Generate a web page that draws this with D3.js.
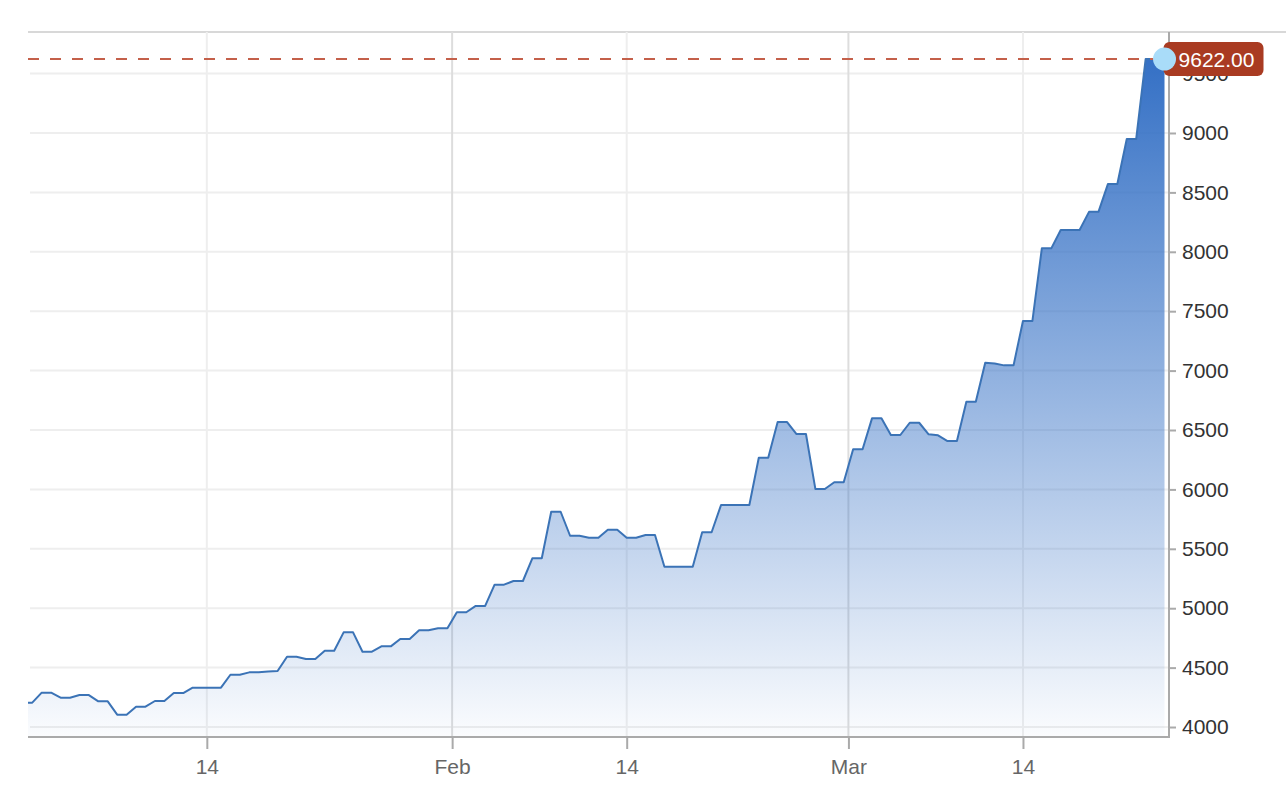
<!DOCTYPE html>
<html>
<head>
<meta charset="utf-8">
<script src="https://cdn.jsdelivr.net/npm/d3@7"></script>
<style>
	body { margin: 0; background: #ffffff; }
	text { font-family: "Liberation Sans", Arial, sans-serif; }
</style>
</head>
<body>
<script>
// price points, evenly spaced along the x axis
	var prices = [
		4205, 4205, 4289, 4289, 4247, 4247, 4269, 4269, 4216, 4216,
		4104, 4104, 4171, 4171, 4219, 4219, 4286, 4286, 4331, 4331,
		4331, 4331, 4440, 4440, 4460, 4462, 4468, 4471, 4592, 4592,
		4572, 4572, 4642, 4642, 4797, 4797, 4634, 4634, 4679, 4679,
		4741, 4741, 4814, 4814, 4831, 4831, 4966, 4966, 5019, 5019,
		5198, 5198, 5229, 5229, 5420, 5420, 5812, 5812, 5610, 5610,
		5593, 5593, 5661, 5661, 5593, 5593, 5616, 5616, 5349, 5349,
		5349, 5349, 5639, 5639, 5869, 5869, 5869, 5869, 6267, 6267,
		6567, 6567, 6466, 6466, 6003, 6003, 6060, 6060, 6338, 6338,
		6598, 6598, 6458, 6458, 6561, 6561, 6464, 6455, 6407, 6407,
		6738, 6738, 7066, 7060, 7044, 7044, 7418, 7418, 8029, 8029,
		8184, 8184, 8184, 8336, 8336, 8570, 8570, 8950, 8950, 9622,
		9622, 9622
	];
	var lastPrice = 9622;

// axis ticks
	var yTicks = [4000, 4500, 5000, 5500, 6000, 6500, 7000, 7500, 8000, 8500, 9000, 9500];
	var xTickAt = [19.5, 45.5, 64, 87.5, 106];	// in point index units
	var xTickLabels = ['14', 'Feb', '14', 'Mar', '14'];
	var xTickMonth = [false, true, false, true, false];

// parameters for layout
	var width = 1286,
		height = 794,
		plotLeft = 28,
		plotRight = 1168,
		plotTop = 32,
		plotBottom = 737,
		fontSize = 21;

	var x = d3.scaleLinear()
		.domain([0.548, 121.37])
		.range([plotLeft, plotRight]);

	var y = d3.scaleLinear()
		.domain([3916, 9850])
		.range([plotBottom, plotTop]);

	var svg = d3.select('body').append('svg')
		.attr('width', width)
		.attr('height', height);

	var defs = svg.append('defs');

	defs.append('clipPath')
		.attr('id', 'plot-clip')
	  .append('rect')
		.attr('x', plotLeft)
		.attr('y', plotTop)
		.attr('width', plotRight - plotLeft)
		.attr('height', plotBottom - plotTop);

	var grad = defs.append('linearGradient')
		.attr('id', 'fill-grad')
		.attr('gradientUnits', 'userSpaceOnUse')
		.attr('x1', 0).attr('x2', 0)
		.attr('y1', y(lastPrice))
		.attr('y2', plotBottom);
	grad.append('stop').attr('offset', 0).attr('stop-color', '#3470c5').attr('stop-opacity', 1);
	grad.append('stop').attr('offset', 1).attr('stop-color', '#3470c5').attr('stop-opacity', 0.02);

// top border
	svg.append('line')
		.attr('x1', plotLeft).attr('x2', width)
		.attr('y1', plotTop).attr('y2', plotTop)
		.style('stroke', '#d8d8d8')
		.style('stroke-width', 2);

// horizontal grid
	svg.append('g').selectAll('line')
		.data(yTicks)
		.join('line')
		.attr('x1', plotLeft + 2).attr('x2', plotRight)
		.attr('y1', d => y(d)).attr('y2', d => y(d))
		.style('stroke', '#eeeeee')
		.style('stroke-width', 2);

// vertical grid
	svg.append('g').selectAll('line')
		.data(xTickAt)
		.join('line')
		.attr('x1', d => x(d)).attr('x2', d => x(d))
		.attr('y1', plotTop).attr('y2', plotBottom)
		.style('stroke', (d, i) => xTickMonth[i] ? '#dddddd' : '#eeeeee')
		.style('stroke-width', 2);

// area and line
	var plot = svg.append('g')
		.attr('clip-path', 'url(#plot-clip)');

	plot.append('path')
		.datum(prices)
		.attr('d', d3.area()
			.x((d, i) => x(i))
			.y0(plotBottom)
			.y1(d => y(d)))
		.style('fill', 'url(#fill-grad)');

	plot.append('path')
		.datum(prices)
		.attr('d', d3.line()
			.x((d, i) => x(i))
			.y(d => y(d)))
		.style('fill', 'none')
		.style('stroke', '#3b73b6')
		.style('stroke-width', 2)
		.style('stroke-linejoin', 'round');

// x axis
	var xAxis = svg.append('g')
		.attr('transform', 'translate(0,' + plotBottom + ')')
		.call(d3.axisBottom(x)
			.tickValues(xTickAt)
			.tickFormat((d, i) => xTickLabels[i])
			.tickSize(12)
			.tickPadding(10));
	xAxis.select('.domain').remove();
	xAxis.selectAll('.tick line').style('stroke', '#aaaaaa').style('stroke-width', 2);
	xAxis.selectAll('.tick text')
		.style('font-size', fontSize + 'px')
		.style('font-family', '"Liberation Sans", Arial, sans-serif')
		.style('fill', '#666666');

	svg.append('line')
		.attr('x1', plotLeft).attr('x2', plotRight + 1)
		.attr('y1', plotBottom).attr('y2', plotBottom)
		.style('stroke', '#aaaaaa')
		.style('stroke-width', 2);

// y axis on the right
	var yAxis = svg.append('g')
		.attr('transform', 'translate(' + (plotRight + 1) + ',0)')
		.call(d3.axisRight(y)
			.tickValues(yTicks)
			.tickFormat(d3.format('d'))
			.tickSize(7)
			.tickPadding(6));
	yAxis.select('.domain').remove();
	yAxis.selectAll('.tick line').style('stroke', '#aaaaaa').style('stroke-width', 2);
	yAxis.selectAll('.tick text')
		.style('font-size', fontSize + 'px')
		.style('font-family', '"Liberation Sans", Arial, sans-serif')
		.style('fill', '#333333');

	svg.append('line')
		.attr('x1', plotRight + 1).attr('x2', plotRight + 1)
		.attr('y1', plotTop).attr('y2', plotBottom + 1)
		.style('stroke', '#aaaaaa')
		.style('stroke-width', 2);

// last price marker: dashed line, label, dot
	var lastX = x(prices.length - 1),
		lastY = y(lastPrice);

	svg.append('line')
		.attr('x1', plotLeft).attr('x2', lastX)
		.attr('y1', lastY).attr('y2', lastY)
		.style('stroke', '#c4604a')
		.style('stroke-width', 2)
		.style('stroke-dasharray', '11,11');

	svg.append('rect')
		.attr('x', lastX - 1)
		.attr('y', lastY - 17)
		.attr('width', 100)
		.attr('height', 34)
		.attr('rx', 6)
		.attr('ry', 6)
		.style('fill', '#a93b22');

	svg.append('text')
		.attr('x', lastX + 52)
		.attr('y', lastY)
		.attr('dy', '0.36em')
		.attr('text-anchor', 'middle')
		.style('font-size', fontSize + 'px')
		.style('fill', '#ffffff')
		.text(d3.format('.2f')(lastPrice));

	svg.append('circle')
		.attr('cx', lastX)
		.attr('cy', lastY)
		.attr('r', 11.5)
		.style('fill', '#a9dcf9');
</script>
</body>
</html>
